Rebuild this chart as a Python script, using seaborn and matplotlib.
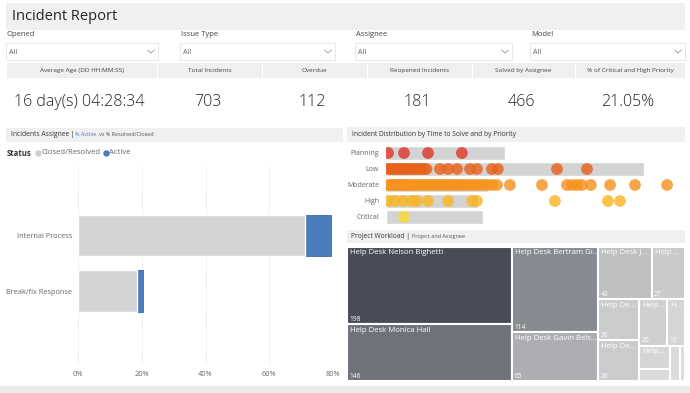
import pandas as pd
import matplotlib.pyplot as plt
import seaborn as sns
from matplotlib.patches import Rectangle
from matplotlib.lines import Line2D
from matplotlib.colors import LinearSegmentedColormap

sns.set_style("white")
plt.rcParams['font.family'] = ['Open Sans', 'DejaVu Sans']

# ---- data ----
filter_names = ['Opened', 'Issue Type', 'Assignee', 'Model']
kpi_titles = ['Average Age (DD HH:MM:SS)', 'Total Incidents', 'Overdue',
              'Reopened Incidents', 'Solved by Assignee', '% of Critical and High Priority']
kpi_values = ['16 day(s) 04:28:34', '703', '112', '181', '466', '21.05%']

assign_groups = ['Internal Process', 'Break/fix Response']
pct_closed = [0.711, 0.184]
pct_active = [0.084, 0.021]

priorities = ['Planning', 'Low', 'Moderate', 'High', 'Critical']
priority_colors = ['#e0392b', '#e8631c', '#f7931e', '#f8b624', '#f9d936']
priority_bar = [39.7, 86.0, 34.0, 30.7, 32.3]
planning_days = [0.7, 6.0, 14.0, 25.3]
low_days = [0.6, 1.3, 2.0, 2.8, 3.5, 4.3, 5.0, 5.8, 6.6, 7.4, 8.2, 9.0, 9.9, 10.8,
            11.7, 12.6, 13.5, 18.0, 20.7, 23.7, 28.0, 30.3, 35.3, 37.3, 57.0, 67.0]
moderate_days = [0.6, 1.4, 2.2, 3.0, 3.9, 4.8, 5.7, 6.6, 7.5, 8.5, 9.5, 10.5, 11.5,
                 12.6, 13.7, 14.8, 16.0, 17.2, 18.4, 19.6, 20.9, 22.2, 23.5, 24.9,
                 26.3, 27.7, 29.2, 30.7, 32.2, 33.8, 35.4, 37.0, 41.3, 52.0, 60.3,
                 62.0, 63.7, 65.3, 68.3, 74.7, 83.0, 93.7]
high_days = [0.7, 3.0, 5.7, 8.7, 10.3, 14.0, 20.7, 28.7, 30.3, 56.3, 74.0, 78.0]
critical_days = [6.0]

workload_names = ['Help Desk Nelson Bighetti', 'Help Desk Monica Hall', 'Help Desk Bertram Gi...',
                  'Help Desk Gavin Bels...', 'Help Desk J...', 'Help ...', 'Help De...',
                  'Help De...', 'Help...', 'H...', 'Help...', '', '', '']
workload_values = [198, 146, 114, 65, 43, 27, 26, 26, 20, 13, 11, 6, 5, 3]
workload_show = [True] * 10 + [False] * 4

# ---- figure in pixel coordinates ----
W, H = 690, 393
fig = plt.figure(figsize=(W / 100, H / 100), dpi=100)
fig.patch.set_facecolor('white')


def box(x0, y0, x1, y1, fc, ec='none', lw=0):
    fig.patches.append(Rectangle((x0 / W, 1 - y1 / H), (x1 - x0) / W, (y1 - y0) / H,
                                 transform=fig.transFigure, facecolor=fc,
                                 edgecolor=ec, linewidth=lw, zorder=0))


def txt(x, y, s, **kw):
    kw.setdefault('va', 'center')
    fig.text(x / W, 1 - y / H, s, **kw)


def add_ax(x0, y0, x1, y1):
    return fig.add_axes([x0 / W, 1 - y1 / H, (x1 - x0) / W, (y1 - y0) / H])


# title bar
box(6, 3, 685, 30, '#f0f0f0')
txt(12, 17, 'Incident Report', fontsize=10.5, color='#252525')

# slicers
drop_x = [(6, 158), (180, 335), (355, 512), (530, 685)]
for name, (x0, x1) in zip(filter_names, drop_x):
    txt(x0 + 1, 35, name, fontsize=5.5, color='#444444')
    box(x0, 43, x1, 60, 'white', ec='#e3e3e3', lw=0.6)
    txt(x0 + 3, 52, 'All', fontsize=5.2, color='#666666')
    cx = x1 - 7
    fig.lines.append(Line2D([(cx - 3.5) / W, cx / W, (cx + 3.5) / W],
                            [1 - 50 / H, 1 - 53 / H, 1 - 50 / H],
                            transform=fig.transFigure, color='#999999', lw=0.6))

# KPI cards
kpi_edges = [6, 157, 262, 367, 472, 575, 685]
for i in range(6):
    x0, x1 = kpi_edges[i], kpi_edges[i + 1]
    box(x0 + 0.5, 63, x1 - 0.5, 78, '#efefef')
    cx = (x0 + x1) / 2
    txt(cx, 70.5, kpi_titles[i], fontsize=4.6, color='#444444', ha='center')
    txt(cx - 2, 102, kpi_values[i], fontsize=11.5, color='#222222', ha='center',
        fontweight='light')

# panel headers
box(6, 128, 343, 142, '#f0f0f0')
txt(11, 135, 'Incidents Assignee |', fontsize=4.9, color='#333333')
txt(75, 135, '% Active', fontsize=4.0, color='#4a7bbd')
txt(99, 135, 'vs % Resolved/Closed', fontsize=4.0, color='#555555')
box(347, 127, 685, 142, '#f0f0f0')
txt(352, 134.5, 'Incident Distribution by Time to Solve and by Priority', fontsize=4.8, color='#333333')
box(347, 230, 685, 243, '#f0f0f0')
txt(351, 236.5, 'Project Workload |', fontsize=4.8, color='#333333')
txt(412, 236.5, 'Project and Assignee', fontsize=4.0, color='#555555')
box(0, 386, 690, 393, '#ececec')

# legend for status
txt(7, 153, 'Status', fontsize=5.6, color='#333333', fontweight='bold')
fig.lines.append(Line2D([38 / W], [1 - 153 / H], marker='o', ms=3.6, color='#d0d0d0',
                        transform=fig.transFigure))
txt(42, 153, 'Closed/Resolved', fontsize=5.6, color='#666666')
fig.lines.append(Line2D([106 / W], [1 - 153 / H], marker='o', ms=3.6, color='#4a7bbd',
                        transform=fig.transFigure))
txt(109, 153, 'Active', fontsize=5.6, color='#666666')

# ---- stacked % bar chart ----
ax1 = add_ax(78, 167, 333, 365)
bars = pd.DataFrame({'group': assign_groups,
                     'closed': pct_closed,
                     'total': [c + a for c, a in zip(pct_closed, pct_active)]})
sns.barplot(data=bars, y='group', x='total', color='#4a7bbd', saturation=1,
            edgecolor='#3d68a8', linewidth=0.6, width=0.75, ax=ax1, orient='h')
sns.barplot(data=bars, y='group', x='closed', color='#d4d4d4', saturation=1,
            width=0.75, ax=ax1, orient='h')
ax1.set_xlim(0, 0.8)
ax1.set_ylim(2.33, -1.23)
ax1.set_xticks([0, 0.2, 0.4, 0.6, 0.8])
ax1.set_xticklabels(['0%', '20%', '40%', '60%', '80%'])
ax1.grid(axis='x', linestyle=(0, (1, 2)), color='#cfcfcf', linewidth=0.6)
ax1.set_axisbelow(True)
ax1.set_xlabel('')
ax1.set_ylabel('')
sns.despine(ax=ax1, left=True, bottom=True)
ax1.tick_params(length=0, labelsize=5.3, labelcolor='#666666', pad=4)
ax1.patch.set_alpha(0)

# ---- dot distribution chart ----
ax2 = add_ax(386, 145, 686, 225)
sns.barplot(x=priority_bar, y=list(range(5)), color='#d3d3d3', saturation=1,
            width=0.92, ax=ax2, orient='h')
dots = pd.DataFrame({
    'priority': (['Planning'] * len(planning_days) + ['Low'] * len(low_days)
                 + ['Moderate'] * len(moderate_days) + ['High'] * len(high_days)
                 + ['Critical'] * len(critical_days)),
    'days': planning_days + low_days + moderate_days + high_days + critical_days})
dots['row'] = dots['priority'].map({p: i for i, p in enumerate(priorities)})
sns.scatterplot(data=dots, x='days', y='row', hue='priority',
                palette=dict(zip(priorities, priority_colors)), s=72, alpha=0.82,
                linewidth=0, legend=False, ax=ax2)
ax2.set_xlim(0, 100)
ax2.set_ylim(4.5, -0.5)
ax2.set_yticks(range(5))
ax2.set_yticklabels(priorities)
ax2.set_xticks([])
ax2.set_xlabel('')
ax2.set_ylabel('')
sns.despine(ax=ax2, left=True, bottom=True)
ax2.tick_params(length=0, labelsize=5, labelcolor='#666666', pad=5)
ax2.patch.set_alpha(0)

# ---- treemap of workload ----
TW, TH = 338, 134


def pair_layout(vals, x, y, w, h):
    # take values two at a time and lay them as a strip along the short side
    rects = []
    for i in range(0, len(vals), 2):
        grp = vals[i:i + 2]
        frac = sum(grp) / sum(vals[i:])
        if w >= h:
            cw = w * frac
            yy = y
            for v in grp:
                hh = h * v / sum(grp)
                rects.append((x, yy, cw, hh))
                yy += hh
            x += cw
            w -= cw
        else:
            ch = h * frac
            xx = x
            for v in grp:
                ww = w * v / sum(grp)
                rects.append((xx, y, ww, ch))
                xx += ww
            y += ch
            h -= ch
    return rects


ax3 = add_ax(347, 247, 685, 381)
rects = pair_layout(workload_values, 0, 0, TW, TH)
cmap = LinearSegmentedColormap.from_list('wl', ['#dcdcdc', '#474c58'])
vmin, vmax = min(workload_values), max(workload_values)
shades = [cmap((v - vmin) / (vmax - vmin)) for v in workload_values]
ax3.bar([r[0] for r in rects], [r[3] for r in rects], width=[r[2] for r in rects],
        bottom=[r[1] for r in rects], align='edge', color=shades,
        edgecolor='white', linewidth=1.5)
for (x, y, w, h), name, v, show in zip(rects, workload_names, workload_values, workload_show):
    if name:
        ax3.text(x + 3, y + 2.5, name, fontsize=5.6, color='white', va='top', ha='left')
    if show:
        ax3.text(x + 2.5, y + h - 1.5, str(v), fontsize=4.8, color='white', va='bottom', ha='left')
ax3.set_xlim(0, TW)
ax3.set_ylim(TH, 0)
ax3.axis('off')

fig.savefig('out.png', dpi=100)
